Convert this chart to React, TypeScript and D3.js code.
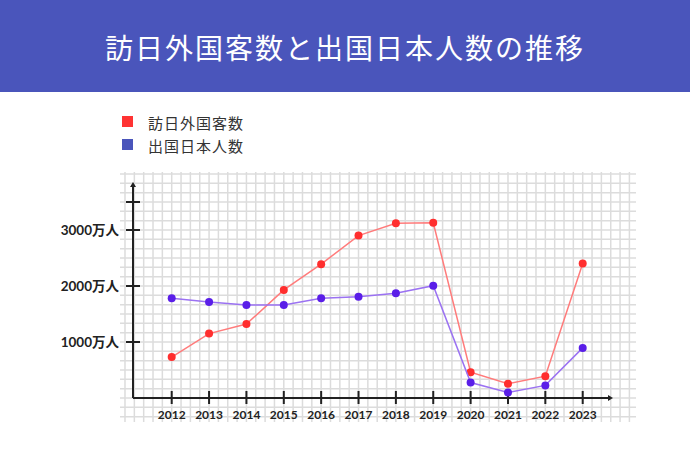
import { useEffect, useRef } from "react";
import { select, scaleLinear, line, range } from "d3";

const years = [2012, 2013, 2014, 2015, 2016, 2017, 2018, 2019, 2020, 2021, 2022, 2023];
// 万人
const visitors = [730, 1150, 1320, 1930, 2390, 2900, 3120, 3130, 460, 255, 390, 2400];
const departures = [1780, 1715, 1660, 1660, 1780, 1810, 1870, 2005, 275, 100, 225, 895];
const yTicks = [1000, 2000, 3000, 3500];
const yTickLabels = ["1000万人", "2000万人", "3000万人", ""];
const seriesNames = ["訪日外国客数", "出国日本人数"];
const title = "訪日外国客数と出国日本人数の推移";

export default function App() {
    const svgRef = useRef<SVGSVGElement>(null);

    useEffect(() => {
        document.body.style.margin = "0";
        const Width = 690;
        const Height = 459;
        const svg = select(svgRef.current).attr("width", Width).attr("height", Height);
        svg.selectAll("*").remove();

        const xScale = scaleLinear().domain([2012, 2023]).range([171.7, 582.7]);
        const yScale = scaleLinear().domain([0, 1000]).range([398, 342]);
        const cell = (xScale(2013) - xScale(2012)) / 4;

        // header
        svg.append("rect").attr("width", Width).attr("height", 92).attr("fill", "#4a55bb");
        svg.append("text")
            .attr("x", Width / 2)
            .attr("y", 47)
            .attr("text-anchor", "middle")
            .attr("dominant-baseline", "central")
            .attr("fill", "#fff")
            .attr("font-size", 28)
            .attr("letter-spacing", 2)
            .style("font-family", "'Noto Sans CJK JP', sans-serif")
            .text(title);

        // legend
        const legendColors = ["#ff3333", "#4a55bb"];
        seriesNames.forEach((name, i) => {
            svg.append("rect")
                .attr("x", 122)
                .attr("y", 116 + i * 23)
                .attr("width", 11)
                .attr("height", 11)
                .attr("fill", legendColors[i]);
            svg.append("text")
                .attr("x", 148)
                .attr("y", 122 + i * 23)
                .attr("dominant-baseline", "central")
                .attr("fill", "#333")
                .attr("font-size", 15)
                .attr("letter-spacing", 1)
                .style("font-family", "'Noto Sans CJK JP', sans-serif")
                .text(name);
        });

        // grid
        const gx0 = 120, gx1 = 636, gy0 = 172, gy1 = 422;
        const grid = svg.append("g").attr("stroke", "#dcdcdc").attr("stroke-width", 1.5);
        range(-6, 60).map((k) => xScale(2012) + k * cell)
            .filter((x) => x >= gx0 && x <= gx1)
            .forEach((x) => {
                grid.append("line").attr("x1", x).attr("x2", x).attr("y1", gy0).attr("y2", gy1);
            });
        range(-3, 30).map((k) => yScale(0) - k * (yScale(0) - yScale(1000)) / 6)
            .filter((y) => y >= gy0 && y <= gy1)
            .forEach((y) => {
                grid.append("line").attr("x1", gx0).attr("x2", gx1).attr("y1", y).attr("y2", y);
            });

        // axes
        const axisX = 133;
        const axisY = yScale(0);
        const axes = svg.append("g").attr("stroke", "#222").attr("stroke-width", 2);
        axes.append("line").attr("x1", axisX).attr("x2", axisX).attr("y1", axisY).attr("y2", 185);
        axes.append("line").attr("x1", axisX).attr("x2", 610).attr("y1", axisY).attr("y2", axisY);
        svg.append("path")
            .attr("d", `M${axisX},182 l-3,5 l6,0 Z`)
            .attr("fill", "#222");
        svg.append("path")
            .attr("d", `M613,${axisY} l-5,-3 l0,6 Z`)
            .attr("fill", "#222");

        yTicks.forEach((t, i) => {
            axes.append("line")
                .attr("x1", axisX - 7)
                .attr("x2", axisX + 7)
                .attr("y1", yScale(t))
                .attr("y2", yScale(t));
            svg.append("text")
                .attr("x", 119)
                .attr("y", yScale(t))
                .attr("text-anchor", "end")
                .attr("dominant-baseline", "central")
                .attr("fill", "#222")
                .attr("font-size", 13.5)
                .attr("font-weight", 700)
                .style("font-family", "Lato, 'Noto Sans CJK JP', sans-serif")
                .text(yTickLabels[i]);
        });

        years.forEach((yr) => {
            axes.append("line")
                .attr("x1", xScale(yr))
                .attr("x2", xScale(yr))
                .attr("y1", axisY - 7)
                .attr("y2", axisY + 6);
            svg.append("text")
                .attr("x", xScale(yr))
                .attr("y", 414)
                .attr("text-anchor", "middle")
                .attr("dominant-baseline", "central")
                .attr("fill", "#222")
                .attr("font-size", 12)
                .attr("font-weight", 700)
                .style("font-family", "Lato, sans-serif")
                .text(yr);
        });

        // series
        const series = [
            { values: visitors, lineColor: "#ff7b7b", dotColor: "#ff2e2e" },
            { values: departures, lineColor: "#9b72f2", dotColor: "#5a1ee8" },
        ];
        series.forEach((s) => {
            const myLine = line<number>()
                .x((_, i) => xScale(years[i]))
                .y((v) => yScale(v));
            svg.append("path")
                .attr("d", myLine(s.values))
                .attr("fill", "none")
                .attr("stroke", s.lineColor)
                .attr("stroke-width", 1.5);
            svg.append("g")
                .selectAll("circle")
                .data(s.values)
                .join("circle")
                .attr("cx", (_, i) => xScale(years[i]))
                .attr("cy", (v) => yScale(v))
                .attr("r", 4)
                .attr("fill", s.dotColor);
        });
    }, []);

    return (
        <div>
            <svg ref={svgRef} style={{ display: "block" }}></svg>
        </div>
    );
}
